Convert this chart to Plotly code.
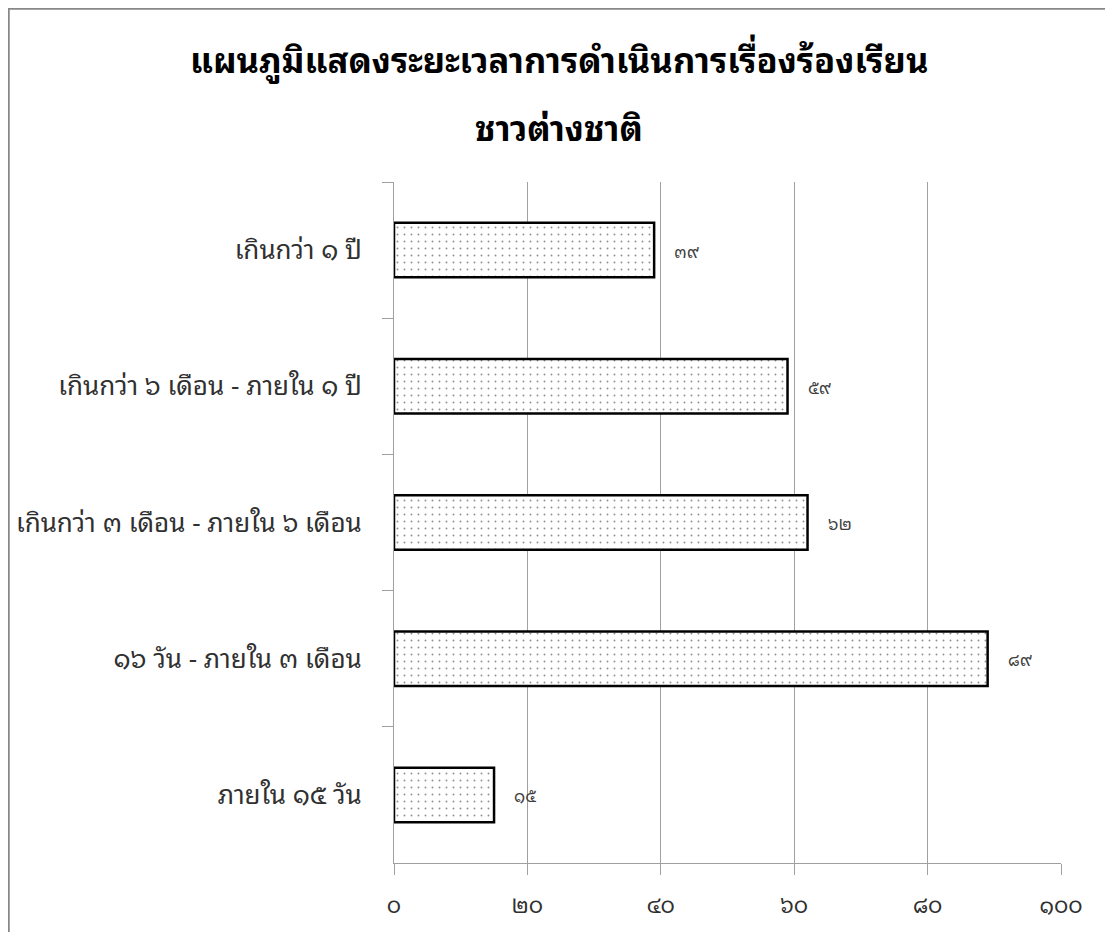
import plotly.graph_objects as go

categories = [
    "เกินกว่า ๑ ปี",
    "เกินกว่า ๖ เดือน - ภายใน ๑ ปี",
    "เกินกว่า ๓ เดือน - ภายใน ๖ เดือน",
    "๑๖ วัน - ภายใน ๓ เดือน",
    "ภายใน ๑๕ วัน",
]
values = [39, 59, 62, 89, 15]
value_labels = ["๓๙", "๕๙", "๖๒", "๘๙", "๑๕"]
x_ticks = [0, 20, 40, 60, 80, 100]
x_tick_labels = ["๐", "๒๐", "๔๐", "๖๐", "๘๐", "๑๐๐"]
title_lines = ["แผนภูมิแสดงระยะเวลาการดำเนินการเรื่องร้องเรียน", "ชาวต่างชาติ"]

FONT = "Noto Sans Thai Looped, Noto Sans Thai, Noto Sans, DejaVu Sans, sans-serif"
GRAY = "#a0a0a0"

# page has an 8px body margin; figure placed at (8,8)
W, H = 1097, 924
ML, MT = 386, 174
MR = W - (1061 - 8)
MB = H - (863 - 8)
plot_w = W - ML - MR
plot_h = H - MT - MB

fig = go.Figure()
fig.add_trace(go.Bar(
    y=categories, x=values, orientation="h", width=0.4,
    marker=dict(color="white",
                line=dict(color="black", width=2.5),
                pattern=dict(shape=".", size=7, solidity=0.06, fgcolor="#222222", bgcolor="white")),
    hoverinfo="skip",
))

anns = []
for c, v, t in zip(categories, values, value_labels):
    anns.append(dict(x=v, y=c, xref="x", yref="y", text=t, showarrow=False,
                     xanchor="left", xshift=18, font=dict(size=17, color="#404040", family=FONT)))

def px_x(px):
    return (px - 8 - ML) / plot_w

def px_y(py):
    return 1 + (MT - (py - 8)) / plot_h

anns.append(dict(x=px_x(559), y=px_y(58), xref="paper", yref="paper", text="<b>" + title_lines[0] + "</b>",
                 showarrow=False, xanchor="center", yanchor="middle",
                 font=dict(size=34.5, color="black", family=FONT)))
anns.append(dict(x=px_x(559), y=px_y(125), xref="paper", yref="paper", text="<b>" + title_lines[1] + "</b>",
                 showarrow=False, xanchor="center", yanchor="middle",
                 font=dict(size=34.5, color="black", family=FONT)))

fig.update_layout(
    width=W, height=H,
    margin=dict(l=ML, r=MR, t=MT, b=MB, autoexpand=False),
    paper_bgcolor="white", plot_bgcolor="white",
    showlegend=False,
    font=dict(family=FONT, color="#303030"),
    annotations=anns,
    xaxis=dict(range=[0, 100], tickvals=x_ticks, ticktext=x_tick_labels,
               showgrid=True, gridcolor=GRAY, gridwidth=1,
               showline=True, linecolor=GRAY, linewidth=1,
               ticks="outside", ticklen=11, tickcolor=GRAY,
               ticklabelstandoff=12, tickfont=dict(size=22, color="#303030"),
               zeroline=False, fixedrange=True, automargin=False),
    yaxis=dict(autorange="reversed", showline=True, linecolor=GRAY, linewidth=1,
               ticks="outside", ticklen=11, tickcolor=GRAY, tickson="boundaries",
               ticklabelstandoff=26, tickfont=dict(size=26, color="#303030"),
               showgrid=False, fixedrange=True, automargin=False),
)

# outer frame (left and top edges visible)
fig.add_shape(type="rect", xref="paper", yref="paper",
              x0=px_x(8.5), x1=px_x(1140),
              y0=px_y(1000), y1=px_y(8.5),
              line=dict(color="#888888", width=2.5), layer="below")

fig.write_html("out.html")
